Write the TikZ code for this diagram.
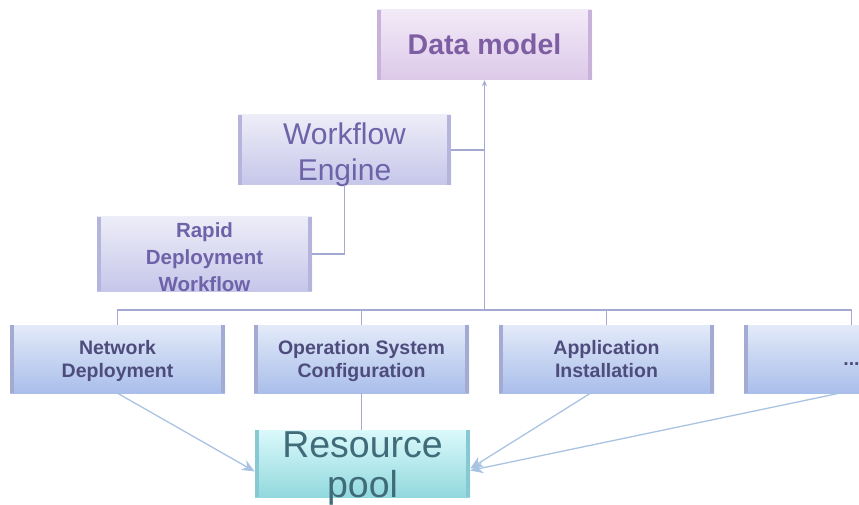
\documentclass[tikz,border=0pt]{standalone}
\usepackage{fontspec}
\setmainfont{Liberation Sans}
\usetikzlibrary{arrows.meta}
\definecolor{linec}{HTML}{A3A9D3}
\definecolor{arrc}{HTML}{A9C3E2}
\definecolor{dmtop}{HTML}{F3EAF8}
\definecolor{dmbot}{HTML}{DCC9E9}
\definecolor{dmbar}{HTML}{C9B2DA}
\definecolor{dmtext}{HTML}{7E5EA2}
\definecolor{wetop}{HTML}{EDEDF8}
\definecolor{webot}{HTML}{C6C6EA}
\definecolor{webar}{HTML}{B4B4DC}
\definecolor{wetext}{HTML}{6E62A8}
\definecolor{bttop}{HTML}{E3EAF9}
\definecolor{btbot}{HTML}{A9BEEA}
\definecolor{btbar}{HTML}{A4ABD3}
\definecolor{bttext}{HTML}{4D4C7C}
\definecolor{rptop}{HTML}{DAF9FB}
\definecolor{rpbot}{HTML}{92D9DE}
\definecolor{rpbar}{HTML}{86C9D2}
\definecolor{rptext}{HTML}{406C7A}
\tikzset{
  bar/.store in=\barc, bar=btbar,
  box/.style={rectangle, inner sep=0pt, align=center, minimum width=215pt,
    minimum height=70pt, text depth=0pt,
    path picture={
      \fill[\barc] (path picture bounding box.south west) rectangle ([xshift=4pt]path picture bounding box.north west);
      \fill[\barc] (path picture bounding box.south east) rectangle ([xshift=-4pt]path picture bounding box.north east);
    }},
  conn/.style={draw=linec, line width=1.3pt},
  arr/.style={draw=arrc, line width=1.3pt, -{Stealth[length=13pt,width=11pt]}},
}
\begin{document}
\begin{tikzpicture}[x=1pt,y=-1pt]
\useasboundingbox (0,0) rectangle (859,505);
\clip (0,0) rectangle (859,505);
% nodes
\node[box, bar=dmbar, text height=20pt, top color=dmtop, bottom color=dmbot, font=\fontsize{28.5}{32}\selectfont\bfseries, text=dmtext] (dm) at (484.5,45) {Data model};
\node[box, bar=webar, text height=62pt, minimum width=213pt, top color=wetop, bottom color=webot, font=\fontsize{30}{36}\selectfont, text=wetext] (we) at (344.5,150) {Workflow\\Engine};
\node[box, bar=webar, text height=74pt, minimum height=72pt, top color=wetop, bottom color=webot, font=\fontsize{20.5}{27}\selectfont\bfseries, text=wetext] (rdw) at (204.5,254) {Rapid\\Deployment\\Workflow};
\tikzset{bt/.style={box, bar=btbar, text height=36pt, minimum height=68pt, top color=bttop, bottom color=btbot, font=\fontsize{19.5}{23}\selectfont\bfseries, text=bttext}}
\node[bt] (nd) at (117.5,359) {Network\\Deployment};
\node[bt] (os) at (361.5,359) {Operation System\\Configuration};
\node[bt] (ai) at (606.5,359) {Application\\Installation};
\node[bt, text height=12pt] (dots) at (851.5,359) {...};
\node[box, bar=rpbar, text height=67pt, minimum height=67pt, top color=rptop, bottom color=rpbot, font=\fontsize{37.5}{40}\selectfont, text=rptext] (rp) at (362.5,463.5) {Resource\\pool};
% connectors
\coordinate (t) at (484.5,310);
\draw[conn, -{Stealth[length=6pt,width=5pt]}] (t) -- (dm.south);
\draw[conn] (we.east) -- (we.east -| t);
\draw[conn] (we.south) |- (rdw.east);
\draw[conn] (nd.north) |- (t) -| (dots.north);
\draw[conn] (os.north) -- (os.north |- t);
\draw[conn] (ai.north) -- (ai.north |- t);
\draw[conn] (os.south) -- (os.south |- rp.north);
\draw[arr] (nd.south) -- ([yshift=-8pt]rp.west);
\draw[arr] ([xshift=-16pt]ai.south) -- ([yshift=-5pt]rp.east);
\draw[arr] ([xshift=-12pt]dots.south) -- ([yshift=-7pt]rp.east);
\end{tikzpicture}
\end{document}
